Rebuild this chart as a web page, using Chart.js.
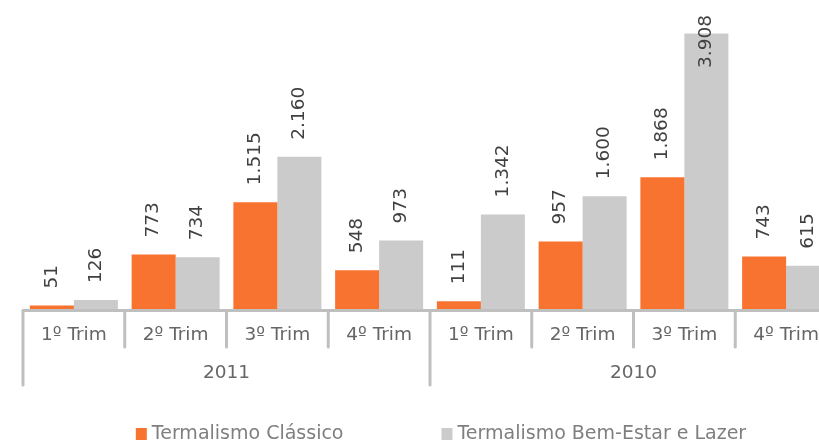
<!DOCTYPE html>
<html>
<head>
<meta charset="utf-8">
<script src="https://cdn.jsdelivr.net/npm/chart.js@4"></script>
<style>
  html,body{margin:0;padding:0;background:#fff;overflow:hidden}
  #wrap{position:absolute;left:0;top:0;width:883px;height:442px}
</style>
</head>
<body>
<div id="wrap"><canvas id="chart" width="883" height="442"></canvas></div>
<script>
// data
const quarters = ['1º Trim','2º Trim','3º Trim','4º Trim'];
const years = ['2011','2010'];
const classico = [51,773,1515,548,111,957,1868,743];
const bemEstar = [126,734,2160,973,1342,1600,3908,615];
const seriesNames = ['Termalismo Clássico','Termalismo Bem-Estar e Lazer'];
const colors = ['#F97330','#CBCBCB'];

const labels = [];
years.forEach(()=>quarters.forEach(q=>labels.push(q)));

const FONT = 'DejaVu Sans';
const AXIS = '#BFBFBF';
function fmt(v){return String(v).replace(/\B(?=(\d{3})+(?!\d))/g,'.')}

// value labels, rotated
const valueLabels = {
  id:'valueLabels',
  afterDatasetsDraw(chart){
    const ctx = chart.ctx;
    ctx.save();
    ctx.font = '18.5px "'+FONT+'"';
    ctx.fillStyle = '#404040';
    ctx.textAlign = 'left';
    ctx.textBaseline = 'middle';
    chart.data.datasets.forEach((ds,di)=>{
      chart.getDatasetMeta(di).data.forEach((bar,i)=>{
        const txt = fmt(ds.data[i]);
        const w = ctx.measureText(txt).width;
        const yStart = Math.max(bar.y - 17, 15 + w);
        ctx.save();
        ctx.translate(bar.x, yStart);
        ctx.rotate(-Math.PI/2);
        ctx.fillText(txt,0,0);
        ctx.restore();
      });
    });
    ctx.restore();
  }
};

// two level category axis + legend
const groupAxis = {
  id:'groupAxis',
  afterDraw(chart){
    const ctx = chart.ctx, x = chart.scales.x, area = chart.chartArea;
    const n = labels.length, step = (area.right-area.left)/n;
    const y0 = area.bottom + 1.5;
    ctx.save();
    ctx.strokeStyle = AXIS;
    ctx.lineWidth = 3;
    ctx.lineCap = 'round';
    ctx.beginPath();
    ctx.moveTo(area.left, y0); ctx.lineTo(area.right, y0);
    for(let i=0;i<=n;i++){
      const px = x.getPixelForValue(i) - step/2;
      const long = i % quarters.length === 0;
      ctx.moveTo(px, y0);
      ctx.lineTo(px, long ? 385 : 347);
    }
    ctx.stroke();
    ctx.font = '18.5px "'+FONT+'"';
    ctx.fillStyle = '#666666';
    ctx.textAlign = 'center';
    ctx.textBaseline = 'middle';
    years.forEach((yr,g)=>{
      const a = x.getPixelForValue(g*quarters.length) - step/2;
      const b = x.getPixelForValue((g+1)*quarters.length-1) + step/2;
      ctx.fillText(yr,(a+b)/2,373);
    });
    // legend
    ctx.font = '19px "'+FONT+'"';
    ctx.textAlign = 'left';
    const ws = chart.data.datasets.map(d=>ctx.measureText(d.label).width);
    const box = 11, gapT = 5, gapI = 98;
    const total = ws.reduce((s,w)=>s+box+gapT+w,0) + gapI*(ws.length-1);
    let lx = 441 - total/2;
    chart.data.datasets.forEach((d,i)=>{
      ctx.fillStyle = d.backgroundColor;
      ctx.fillRect(lx, 428, box, 12);
      ctx.fillStyle = '#7F7F7F';
      ctx.fillText(d.label, lx+box+gapT, 434);
      lx += box + gapT + ws[i] + gapI;
    });
    ctx.restore();
  }
};

new Chart(document.getElementById('chart'),{
  type:'bar',
  data:{labels, datasets:[
    {label:seriesNames[0], data:classico, backgroundColor:colors[0], borderWidth:0},
    {label:seriesNames[1], data:bemEstar, backgroundColor:colors[1], borderWidth:0}
  ]},
  options:{
    responsive:false,
    animation:false,
    categoryPercentage:0.865,
    barPercentage:1,
    layout:{padding:{top:27,left:23,right:46,bottom:0}},
    plugins:{legend:{display:false},tooltip:{enabled:false}},
    scales:{
      x:{
        grid:{display:false,drawTicks:false},
        border:{display:false},
        ticks:{font:{family:FONT,size:18.5},color:'#666666',padding:15,maxRotation:0,autoSkip:false},
        afterFit(s){s.height = 133;}
      },
      y:{display:false,min:0,max:4000}
    }
  },
  plugins:[valueLabels,groupAxis]
});
</script>
</body>
</html>
